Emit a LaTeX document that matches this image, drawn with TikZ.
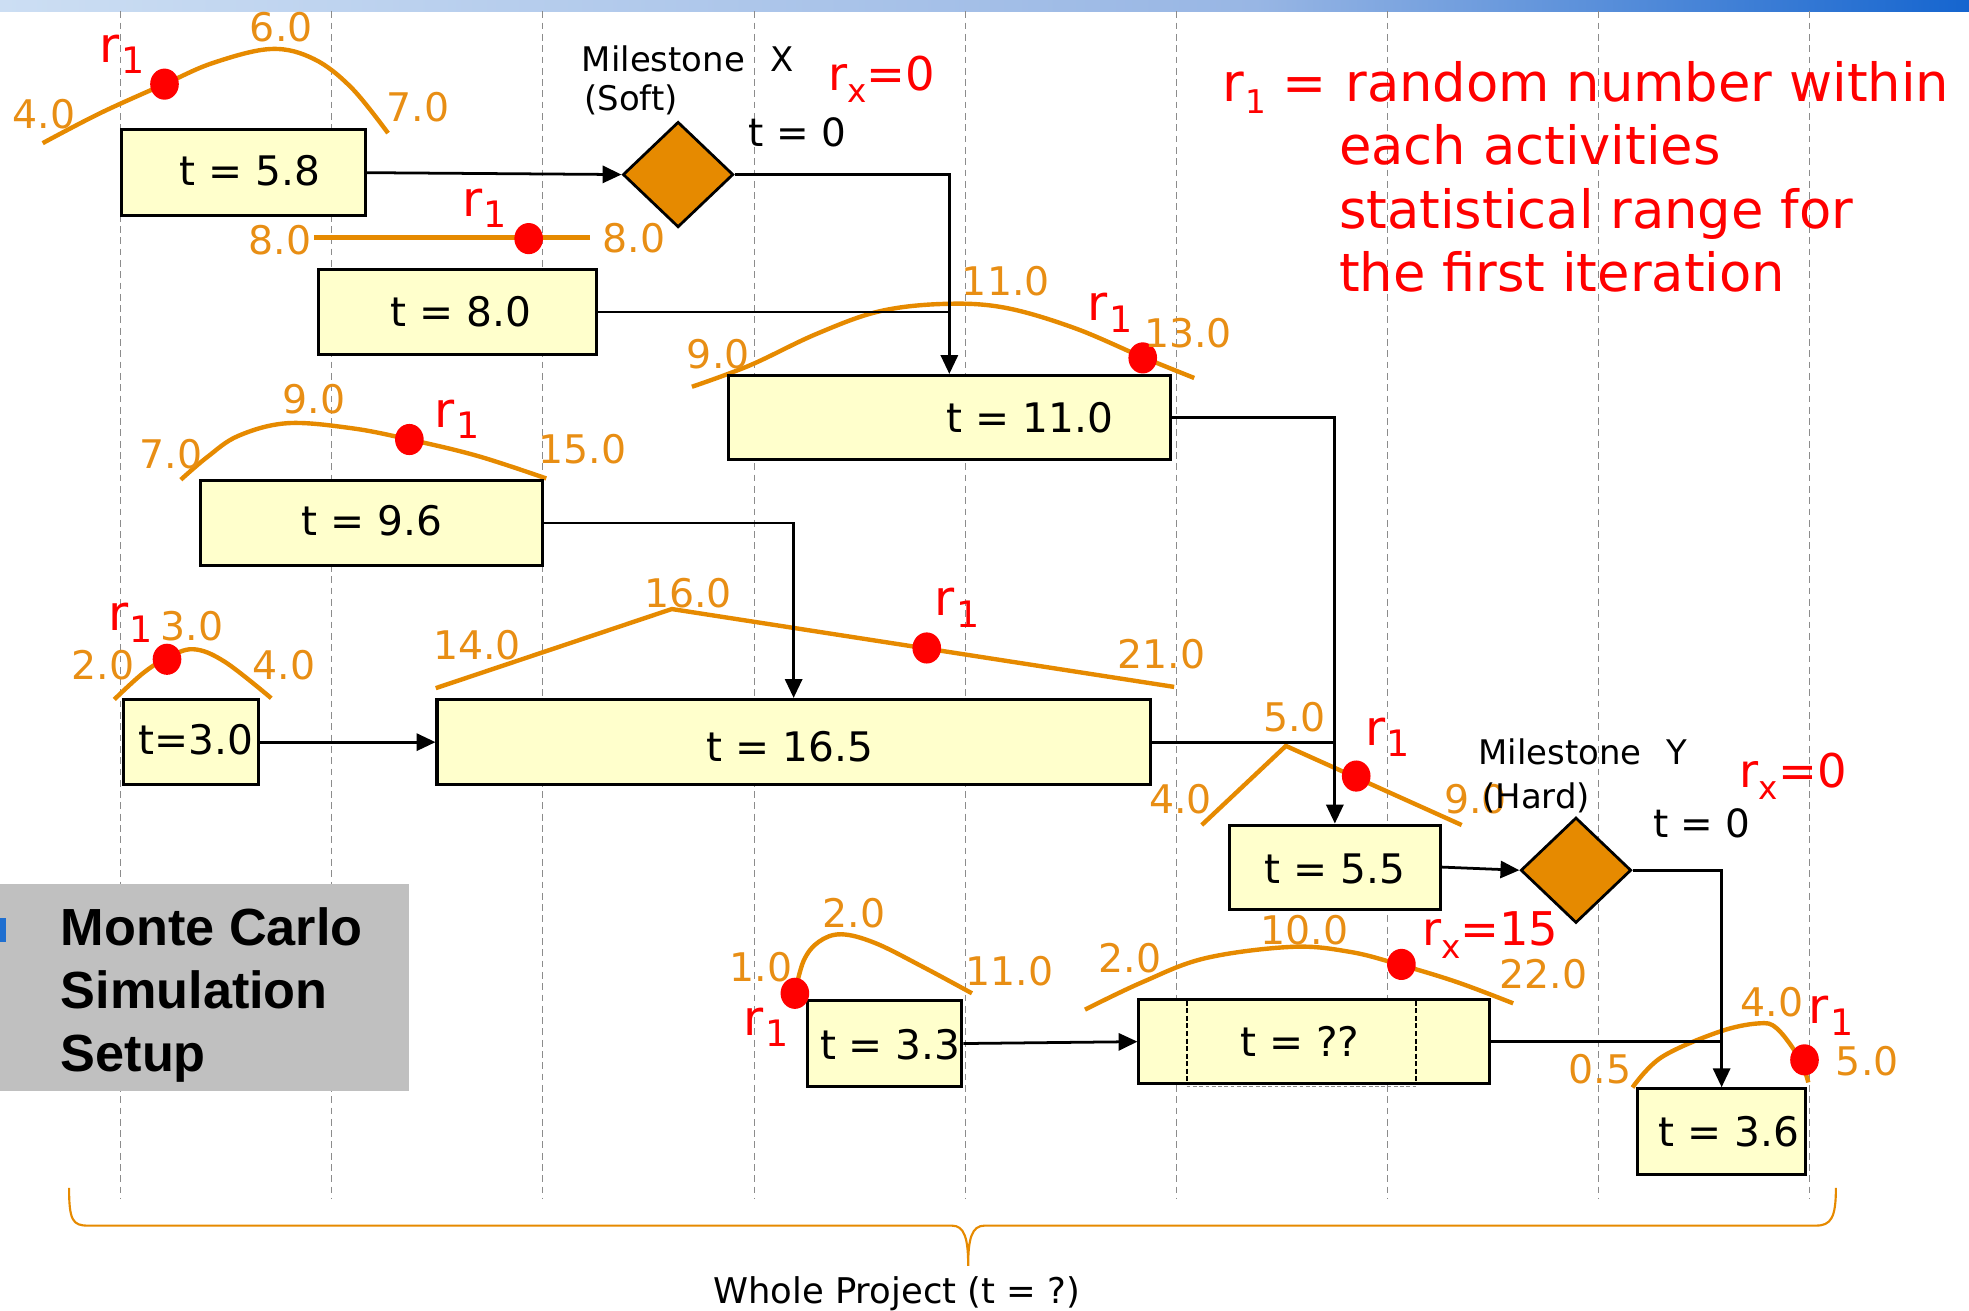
\documentclass[tikz,border=0pt]{standalone}
\usepackage{fontspec}
\usepackage{graphicx}
\setmainfont{DejaVu Sans}
\newfontfamily\headfont{Liberation Sans}
\usetikzlibrary{shapes.geometric,arrows.meta}

\definecolor{boxfill}{HTML}{FFFFCC}
\definecolor{curveorange}{RGB}{230,138,0}
\definecolor{labelorange}{RGB}{232,142,20}
\definecolor{dotred}{HTML}{FF0000}
\definecolor{gridgray}{HTML}{8C8C8C}
\definecolor{panelgray}{HTML}{C0C0C0}
\definecolor{barblue}{HTML}{1F6FD0}
\definecolor{barlight}{HTML}{CCDEF3}
\definecolor{barmid}{HTML}{98B6E4}
\definecolor{bardark}{HTML}{1565CF}

\newcommand\fsz[1]{\fontsize{#1}{#1}\selectfont}
% r with a lowered index, as used for the random-number markers
\newcommand\rone{{\fsz{19.5}r}\kern0.6pt\raisebox{-4.5pt}{\fsz{14.5}1}}
\newcommand\rxval[1]{{\fsz{18.5}r}\raisebox{-5pt}{\fsz{13}x}{\fsz{18.5}=#1}}

% activity box: name, left, top, right, bottom
\newcommand\actbox[5]{\node[actbox, minimum width={(#4-#2)*0.5pt}, minimum height={(#5-#3)*0.5pt}] (#1) at ({(#2+#4)/2},{(#3+#5)/2}) {};}

\tikzset{
  gridline/.style={draw=gridgray, line width=0.55pt, dash pattern=on 2.7pt off 1.8pt},
  actbox/.style={rectangle, draw=black, fill=boxfill, line width=1.2pt, inner sep=0pt},
  boxtext/.style={font=\fsz{16.2}, inner sep=0pt, text=black},
  milestone/.style={diamond, draw=black, fill=curveorange, line width=1.1pt, inner sep=0pt, minimum width=44pt, minimum height=42pt},
  curve/.style={draw=curveorange, line width=1.75pt},
  olab/.style={font=\fsz{15.7}, text=labelorange, inner sep=0pt},
  rlab/.style={text=dotred, inner sep=0pt},
  conn/.style={draw=black, line width=1.1pt},
  arr/.style={conn, -{Triangle[length=7.5pt,width=6.8pt]}},
  mstext/.style={font=\fsz{13.5}, inner sep=0pt},
  tzero/.style={font=\fsz{15.5}, inner sep=0pt},
  notetext/.style={font=\fsz{21}, text=dotred, inner sep=0pt},
  headtext/.style={font=\headfont\bfseries\fsz{20.8}, inner sep=0pt},
  brace/.style={draw=curveorange, line width=0.85pt},
  reddot/.style={fill=dotred},
  innerdash/.style={draw=black, line width=0.8pt, dash pattern=on 2pt off 1pt},
}

\begin{document}
\begin{tikzpicture}[x=0.5pt,y=-0.5pt]
\useasboundingbox (0,0) rectangle (1568,1044);

% title bar
\shade[left color=barlight, right color=barmid] (0,0) rectangle (1001,9);
\shade[left color=barmid, right color=bardark] (1000,0) rectangle (1568,9);

% time grid
\foreach \gx in {96,264,432,601,769,937,1105,1273,1441}
  \draw[gridline] (\gx,9) -- (\gx,955);

% heading panel
\fill[panelgray] (0,704) rectangle (326,869);
\fill[barblue] (0,731) rectangle (5,750);
\node[headtext, anchor=base west] (head1) at (48,753) {Monte Carlo};
\node[headtext, anchor=base west] (head2) at (48,803) {Simulation};
\node[headtext, anchor=base west] (head3) at (48,853) {Setup};

% duration distributions
\draw[curve] plot[smooth, tension=0.6] coordinates {(34,114) (80,90) (131,67) (170,50) (216,39) (250,47) (280,70) (309,106)};
\draw[curve] (250,189) -- (470,189);
\draw[curve] plot[smooth, tension=0.6] coordinates {(551,308) (597,291) (650,266) (700,248) (752,242) (800,245) (855,261) (909,284) (951,301)};
\draw[curve] plot[smooth, tension=0.6] coordinates {(144,382) (165,364) (190,347) (229,337) (280,341) (326,350) (380,363) (435,381)};
\draw[curve] plot[smooth, tension=0.6] coordinates {(91,557) (114,536) (133,524) (154,517) (179,527) (216,556)};
\draw[curve] (347,548) -- (535,485) -- (935,547);
\draw[curve] (957,657) -- (1024,594) -- (1164,657);
\draw[curve] plot[smooth, tension=0.6] coordinates {(633,791) (640,765) (652,750) (670,744) (697,751) (735,770) (774,791)};
\draw[curve] plot[smooth, tension=0.6] coordinates {(864,804) (910,782) (960,763) (1029,754) (1075,758) (1114,768) (1160,782) (1205,799)};
\draw[curve] plot[smooth, tension=0.6] coordinates {(1300,866) (1323,842) (1368,822) (1400,815) (1415,819) (1433,843) (1440,862)};

% activities
\actbox{box1}{97}{103}{291}{172}
\actbox{box2}{254}{215}{475}{282}
\actbox{box3}{580}{299}{932}{366}
\actbox{box4}{160}{383}{432}{450}
\actbox{box5}{98}{557}{206}{625}
\actbox{box6}{348}{557}{916}{625}
\actbox{box7}{979}{657}{1147}{724}
\actbox{box8}{643}{797}{766}{865}
\actbox{box9}{907}{796}{1186}{863}
\actbox{box10}{1304}{867}{1438}{935}
\draw[innerdash] (945,797) -- (945,863);
\draw[innerdash] (1128,797) -- (1128,863);
\draw[gridgray, line width=0.5pt, dash pattern=on 1.5pt off 1pt] (945,865) -- (1128,865);

% milestones
\node[milestone] (msX) at (540,139) {};
\node[milestone] (msY) at (1255,693) {};

% logic links
\draw[arr] (box1.east) -- (msX.west);
\draw[arr] (msX.east) -| (box3.north);
\draw[conn] (box2.east) -- (box2.east -| box3.north);
\draw[arr] (box3.east) -| (box7.north);
\draw[arr] (box4.east) -| (box6.north);
\draw[arr] (box5.east) -- (box6.west);
\draw[conn] (box6.east) -- (box6.east -| box7.north);
\draw[arr] (box7.east) -- (msY.west);
\draw[arr] (msY.east) -| (box10.north);
\draw[arr] (box8.east) -- (box9.west);
\draw[conn] (box9.east) -- (box9.east -| box10.north);

% durations
\node[boxtext] (t1) at (199,136) {t = 5.8};
\node[boxtext] (t2) at (367,248) {t = 8.0};
\node[boxtext] (t3) at (820,333) {t = 11.0};
\node[boxtext] (t4) at (296,415) {t = 9.6};
\node[boxtext] (t5) at (156,589) {t=3.0};
\node[boxtext] (t6) at (629,595) {t = 16.5};
\node[boxtext] (t7) at (1063,692) {t = 5.5};
\node[boxtext] (t8) at (709,832) {t = 3.3};
\node[boxtext] (t9) at (1035,829) {t = ??};
\node[boxtext] (t10) at (1377,901) {t = 3.6};

% sampled values
\fill[reddot] (131,67) ellipse [x radius=5.7pt, y radius=6.2pt];
\fill[reddot] (421,190) ellipse [x radius=5.7pt, y radius=6.2pt];
\fill[reddot] (910,285) ellipse [x radius=5.7pt, y radius=6.2pt];
\fill[reddot] (326,350) ellipse [x radius=5.7pt, y radius=6.2pt];
\fill[reddot] (133,525) ellipse [x radius=5.7pt, y radius=6.2pt];
\fill[reddot] (738,516) ellipse [x radius=5.7pt, y radius=6.2pt];
\fill[reddot] (1080,618) ellipse [x radius=5.7pt, y radius=6.2pt];
\fill[reddot] (633,791) ellipse [x radius=5.7pt, y radius=6.2pt];
\fill[reddot] (1116,768) ellipse [x radius=5.7pt, y radius=6.2pt];
\fill[reddot] (1437,844) ellipse [x radius=5.7pt, y radius=6.2pt];

% range labels
\node[olab] (a1) at (35,91) {4.0};
\node[olab] (a2) at (224,22) {6.0};
\node[olab] (a3) at (333,85) {7.0};
\node[rlab] (a4) at (97,43) {\rone};

\node[olab] (b1) at (223,191) {8.0};
\node[olab] (b2) at (505,190) {8.0};
\node[rlab] (b3) at (386,166) {\rone};

\node[olab] (c1) at (572,282) {9.0};
\node[olab] (c2) at (801,224) {11.0};
\node[olab] (c3) at (946,265) {13.0};
\node[rlab] (c4) at (884,249) {\rone};

\node[olab] (d1) at (136,362) {7.0};
\node[olab] (d2) at (250,318) {9.0};
\node[olab] (d3) at (464,358) {15.0};
\node[rlab] (d4) at (364,334) {\rone};

\node[olab] (e1) at (82,530) {2.0};
\node[olab] (e2) at (153,499) {3.0};
\node[olab] (e3) at (226,530) {4.0};
\node[rlab] (e4) at (104,496) {\rone};

\node[olab] (f1) at (380,514) {14.0};
\node[olab] (f2) at (548,472) {16.0};
\node[olab] (f3) at (925,521) {21.0};
\node[rlab] (f4) at (762,484) {\rone};

\node[olab] (g1) at (940,636) {4.0};
\node[olab] (g2) at (1031,571) {5.0};
\node[olab] (g3) at (1175,636) {9.0};
\node[rlab] (g4) at (1105,587) {\rone};

\node[olab] (h1) at (606,770) {1.0};
\node[olab] (h2) at (680,727) {2.0};
\node[olab] (h3) at (804,773) {11.0};
\node[rlab] (h4) at (610,818) {\rone};

\node[olab] (k1) at (900,763) {2.0};
\node[olab] (k2) at (1039,741) {10.0};
\node[olab] (k3) at (1229,776) {22.0};
\node[rlab, anchor=base west] (k4) at (1132,753) {\rxval{15}};

\node[olab] (m1) at (1274,851) {0.5};
\node[olab] (m2) at (1411,798) {4.0};
\node[olab] (m3) at (1487,845) {5.0};
\node[rlab] (m4) at (1458,809) {\rone};

% milestone captions
\node[mstext, anchor=base west] (msXa) at (463,57) {Milestone\hspace{0.75em}X};
\node[mstext, anchor=base west] (msXb) at (465,88) {(Soft)};
\node[tzero, anchor=base west] (msXt) at (596,117) {t = 0};
\node[rlab, anchor=base west] (msXr) at (659,72) {\rxval{0}};

\node[mstext, anchor=base west] (msYa) at (1177,609) {Milestone\hspace{0.75em}Y};
\node[mstext, anchor=base west] (msYb) at (1180,644) {(Hard)};
\node[tzero, anchor=base west] (msYt) at (1316,667) {t = 0};
\node[rlab, anchor=base west] (msYr) at (1385,627) {\rxval{0}};

% explanation
\node[notetext, anchor=base west] (note0) at (973,81) {r\kern0.6pt\raisebox{-4.5pt}{\fsz{13}1}\hspace{0.3em}=};
\node[notetext, anchor=base west] (note1) at (1071,81) {random number within};
\node[notetext, anchor=base west] (note2) at (1066,131) {each activities};
\node[notetext, anchor=base west] (note3) at (1066,182) {statistical range for};
\node[notetext, anchor=base west] (note4) at (1066,232) {the first iteration};

% overall span
\draw[brace] (55,946) .. controls (55,972) and (58,976) .. (70,976) -- (758,976)
  .. controls (768,976) and (771,986) .. (771,1008)
  .. controls (771,986) and (774,976) .. (784,976) -- (1446,976)
  .. controls (1458,976) and (1462,970) .. (1462,946);
\node[mstext, font=\fsz{14.1}, anchor=base] (whole) at (714,1038) {Whole Project (t = ?)};
\end{tikzpicture}
\end{document}
